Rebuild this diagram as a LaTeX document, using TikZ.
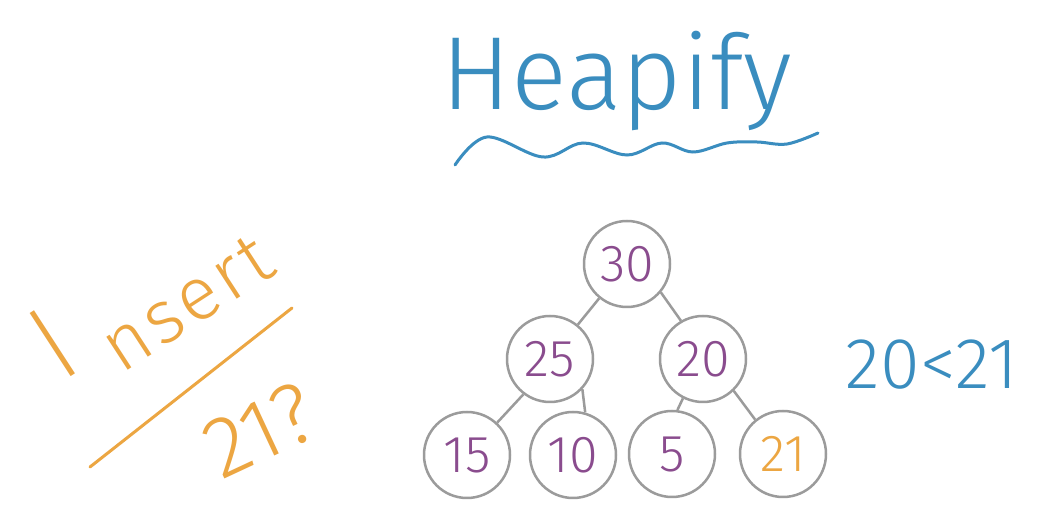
\documentclass[tikz,border=0pt]{standalone}
\usepackage{fontspec}
\setmainfont{Fira Sans}[UprightFont={* Light}]
\newfontfamily\thinpen{Fira Sans}[UprightFont={* ExtraLight}]
\usetikzlibrary{positioning}
\definecolor{penblue}{RGB}{58,141,191}
\definecolor{penorange}{RGB}{236,166,66}
\definecolor{penpurple}{RGB}{138,76,142}
\definecolor{ringgray}{RGB}{155,155,155}

\begin{document}
\begin{tikzpicture}[x=1pt, y=1pt,
  key/.style={draw=ringgray, circle, line width=2.5pt, minimum size=86pt, inner sep=0pt, font=\fontsize{52}{52}\selectfont, text=penpurple},
  link/.style={draw=ringgray, line width=2.5pt},
  ink/.style={inner sep=0pt, line cap=round, line join=round},
  on grid
]
\useasboundingbox[fill=white] (0,0) rectangle (1050,530);

% title
\node[ink, anchor=base, text=penblue, font=\fontsize{104}{104}\selectfont] (title) at (617,420) {Heapify};
\draw[penblue, line width=3pt, line cap=round] plot[smooth, tension=0.6] coordinates {
  (455,365) (487,393) (543,373) (583,387) (627,375) (662,387) (693,378) (727,387) (757,388) (787,386) (818,397)};

% question on the left
\node[ink, anchor=base west, rotate=33, text=penorange] (insert) at (74,125)
  {\raisebox{25pt}{\thinpen\fontsize{110}{110}\selectfont I}\hspace{26pt}{\fontsize{75}{75}\selectfont\addfontfeature{LetterSpace=5}nsert}};
\draw[penorange, line width=3pt, line cap=round] (90,63) -- (292,222);
\node[ink, rotate=25, text=penorange, font=\fontsize{86}{86}\selectfont] (ask) at (260,100) {21?};

% heap
\node[key] (root) at (627,266) {30};
\node[key, below left=95pt and 77pt of root] (n25) {25};
\node[key, below right=95pt and 76pt of root] (n20) {20};
\node[key, below left=96pt and 83pt of n25] (n15) {15};
\node[key, below right=96pt and 23pt of n25] (n10) {10};
\node[key, below left=95pt and 31pt of n20] (n5) {5};
\node[key, below right=95pt and 80pt of n20, text=penorange] (n21) {21};

\draw[link] (root) -- (n25);
\draw[link] (root.-40) -- (n20.120);
\draw[link] (n25.233) -- (n15.47);
\draw[link] (n25.-43) -- (n10.74);
\draw[link] (n20.243) -- (n5.83);
\draw[link] (n20.-46) -- (n21.129);

% comparison
\node[ink, text=penblue, font=\fontsize{72}{72}\selectfont] (cmp) at (932,165) {20<21};
\end{tikzpicture}
\end{document}
